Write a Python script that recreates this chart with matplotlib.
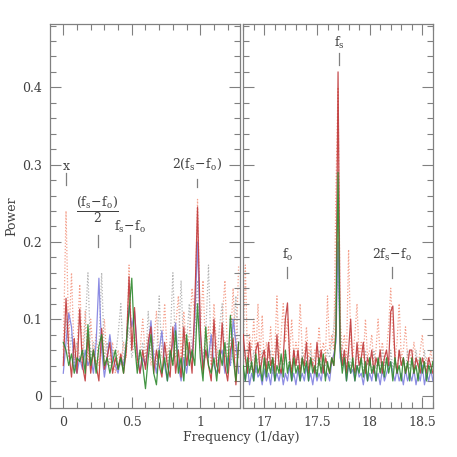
import numpy as np
import matplotlib
matplotlib.use("Agg")
import matplotlib.pyplot as plt
from matplotlib.ticker import MultipleLocator

# ---------------- data ----------------
# left panel frequency grid (1/day)
freq_left = [0.00, 0.02, 0.04, 0.06, 0.08, 0.10, 0.12, 0.14, 0.16, 0.18,
             0.20, 0.22, 0.24, 0.26, 0.28, 0.30, 0.32, 0.34, 0.36, 0.38,
             0.40, 0.42, 0.44, 0.46, 0.48, 0.50, 0.52, 0.54, 0.56, 0.58,
             0.60, 0.62, 0.64, 0.66, 0.68, 0.70, 0.72, 0.74, 0.76, 0.78,
             0.80, 0.82, 0.84, 0.86, 0.88, 0.90, 0.92, 0.94, 0.96, 0.98,
             1.00, 1.02, 1.04, 1.06, 1.08, 1.10, 1.12, 1.14, 1.16, 1.18,
             1.20, 1.22, 1.24, 1.26, 1.28]

red_left = [0.040, 0.127, 0.060, 0.025, 0.075, 0.030, 0.113, 0.040, 0.020, 0.080,
            0.030, 0.060, 0.040, 0.020, 0.088, 0.035, 0.050, 0.070, 0.030, 0.050,
            0.035, 0.055, 0.030, 0.060, 0.155, 0.060, 0.115, 0.050, 0.030, 0.060,
            0.035, 0.070, 0.090, 0.030, 0.060, 0.040, 0.025, 0.070, 0.040, 0.025,
            0.090, 0.030, 0.060, 0.025, 0.090, 0.040, 0.070, 0.030, 0.120, 0.245,
            0.090, 0.030, 0.060, 0.040, 0.020, 0.100, 0.040, 0.030, 0.095, 0.040,
            0.020, 0.060, 0.075, 0.015, 0.070]

blue_left = [0.030, 0.070, 0.108, 0.090, 0.040, 0.030, 0.050, 0.035, 0.060, 0.040,
             0.050, 0.030, 0.070, 0.153, 0.060, 0.025, 0.050, 0.080, 0.050, 0.040,
             0.030, 0.050, 0.040, 0.070, 0.117, 0.090, 0.110, 0.060, 0.030, 0.050,
             0.040, 0.060, 0.098, 0.050, 0.030, 0.060, 0.085, 0.040, 0.020, 0.050,
             0.070, 0.095, 0.040, 0.020, 0.050, 0.030, 0.060, 0.050, 0.100, 0.200,
             0.080, 0.040, 0.060, 0.050, 0.080, 0.040, 0.030, 0.050, 0.060, 0.030,
             0.050, 0.040, 0.100, 0.070, 0.030]

green_left = [0.070, 0.060, 0.040, 0.055, 0.030, 0.050, 0.045, 0.060, 0.030, 0.093,
              0.040, 0.060, 0.030, 0.065, 0.080, 0.040, 0.050, 0.030, 0.045, 0.060,
              0.035, 0.050, 0.030, 0.070, 0.110, 0.153, 0.070, 0.030, 0.060, 0.040,
              0.010, 0.050, 0.080, 0.030, 0.015, 0.060, 0.030, 0.050, 0.020, 0.060,
              0.040, 0.085, 0.030, 0.050, 0.020, 0.080, 0.040, 0.060, 0.040, 0.120,
              0.050, 0.020, 0.090, 0.040, 0.030, 0.050, 0.020, 0.060, 0.040, 0.070,
              0.030, 0.105, 0.050, 0.020, 0.070]

salmon_left = [0.060, 0.240, 0.070, 0.160, 0.050, 0.060, 0.145, 0.050, 0.110, 0.040,
               0.100, 0.050, 0.080, 0.040, 0.060, 0.100, 0.040, 0.050, 0.070, 0.030,
               0.060, 0.040, 0.070, 0.050, 0.170, 0.060, 0.080, 0.040, 0.060, 0.100,
               0.050, 0.080, 0.040, 0.070, 0.110, 0.050, 0.060, 0.120, 0.050, 0.070,
               0.040, 0.090, 0.130, 0.050, 0.110, 0.060, 0.080, 0.140, 0.100, 0.255,
               0.080, 0.150, 0.050, 0.090, 0.040, 0.120, 0.060, 0.050, 0.100, 0.150,
               0.050, 0.070, 0.140, 0.050, 0.170]

gray_left = [0.050, 0.100, 0.050, 0.080, 0.040, 0.070, 0.050, 0.040, 0.090, 0.160,
             0.050, 0.070, 0.040, 0.060, 0.160, 0.050, 0.070, 0.040, 0.060, 0.050,
             0.080, 0.120, 0.040, 0.060, 0.090, 0.050, 0.070, 0.040, 0.050, 0.070,
             0.040, 0.110, 0.050, 0.060, 0.040, 0.130, 0.050, 0.060, 0.040, 0.070,
             0.160, 0.050, 0.060, 0.150, 0.050, 0.070, 0.120, 0.050, 0.080, 0.150,
             0.060, 0.050, 0.080, 0.170, 0.050, 0.070, 0.040, 0.090, 0.120, 0.050,
             0.070, 0.040, 0.060, 0.130, 0.050]

# right panel frequency grid (1/day)
freq_right = [16.80, 16.82, 16.84, 16.86, 16.88, 16.90, 16.92, 16.94, 16.96, 16.98,
              17.00, 17.02, 17.04, 17.06, 17.08, 17.10, 17.12, 17.14, 17.16, 17.18,
              17.20, 17.22, 17.24, 17.26, 17.28, 17.30, 17.32, 17.34, 17.36, 17.38,
              17.40, 17.42, 17.44, 17.46, 17.48, 17.50, 17.52, 17.54, 17.56, 17.58,
              17.60, 17.62, 17.64, 17.66, 17.68, 17.70, 17.72, 17.74, 17.76, 17.78,
              17.80, 17.82, 17.84, 17.86, 17.88, 17.90, 17.92, 17.94, 17.96, 17.98,
              18.00, 18.02, 18.04, 18.06, 18.08, 18.10, 18.12, 18.14, 18.16, 18.18,
              18.20, 18.22, 18.24, 18.26, 18.28, 18.30, 18.32, 18.34, 18.36, 18.38,
              18.40, 18.42, 18.44, 18.46, 18.48, 18.50, 18.52, 18.54, 18.56, 18.58,
              18.60]

red_right = [0.080, 0.050, 0.030, 0.070, 0.040, 0.030, 0.060, 0.070, 0.030, 0.050,
             0.060, 0.030, 0.070, 0.040, 0.050, 0.030, 0.080, 0.040, 0.030, 0.050,
             0.100, 0.121, 0.050, 0.030, 0.060, 0.040, 0.060, 0.030, 0.050, 0.040,
             0.070, 0.030, 0.050, 0.040, 0.030, 0.070, 0.040, 0.060, 0.030, 0.050,
             0.040, 0.030, 0.050, 0.040, 0.090, 0.420, 0.070, 0.040, 0.060, 0.030,
             0.060, 0.100, 0.040, 0.030, 0.070, 0.040, 0.050, 0.070, 0.030, 0.050,
             0.040, 0.060, 0.030, 0.050, 0.040, 0.060, 0.030, 0.050, 0.060, 0.040,
             0.110, 0.117, 0.050, 0.030, 0.060, 0.040, 0.050, 0.030, 0.040, 0.060,
             0.060, 0.030, 0.050, 0.040, 0.030, 0.050, 0.040, 0.030, 0.050, 0.040,
             0.030]

salmon_right = [0.060, 0.170, 0.050, 0.080, 0.060, 0.100, 0.050, 0.120, 0.050, 0.105,
                0.040, 0.070, 0.050, 0.090, 0.050, 0.060, 0.130, 0.050, 0.080, 0.120,
                0.070, 0.100, 0.050, 0.100, 0.050, 0.070, 0.050, 0.120, 0.060, 0.050,
                0.090, 0.050, 0.070, 0.040, 0.060, 0.050, 0.090, 0.050, 0.070, 0.050,
                0.130, 0.060, 0.080, 0.060, 0.270, 0.400, 0.100, 0.060, 0.080, 0.050,
                0.190, 0.070, 0.050, 0.080, 0.120, 0.050, 0.070, 0.050, 0.100, 0.050,
                0.060, 0.080, 0.040, 0.060, 0.100, 0.050, 0.070, 0.050, 0.060, 0.090,
                0.140, 0.080, 0.050, 0.070, 0.120, 0.050, 0.060, 0.090, 0.050, 0.060,
                0.040, 0.070, 0.050, 0.040, 0.060, 0.080, 0.040, 0.050, 0.040, 0.060,
                0.040]

green_right = [0.040, 0.020, 0.050, 0.030, 0.045, 0.020, 0.055, 0.030, 0.040, 0.020,
               0.050, 0.025, 0.045, 0.030, 0.050, 0.020, 0.040, 0.030, 0.055, 0.025,
               0.060, 0.030, 0.045, 0.020, 0.050, 0.030, 0.040, 0.020, 0.050, 0.030,
               0.045, 0.020, 0.050, 0.030, 0.040, 0.025, 0.050, 0.030, 0.055, 0.020,
               0.045, 0.030, 0.050, 0.040, 0.080, 0.290, 0.060, 0.030, 0.050, 0.020,
               0.045, 0.030, 0.050, 0.020, 0.040, 0.030, 0.050, 0.025, 0.045, 0.020,
               0.050, 0.030, 0.040, 0.020, 0.050, 0.030, 0.045, 0.025, 0.050, 0.030,
               0.045, 0.020, 0.050, 0.030, 0.040, 0.020, 0.050, 0.030, 0.045, 0.020,
               0.050, 0.030, 0.040, 0.020, 0.050, 0.030, 0.045, 0.020, 0.040, 0.030,
               0.045]

blue_right = [0.030, 0.020, 0.040, 0.015, 0.030, 0.020, 0.040, 0.025, 0.030, 0.015,
              0.035, 0.020, 0.030, 0.015, 0.040, 0.020, 0.030, 0.020, 0.035, 0.015,
              0.030, 0.020, 0.040, 0.020, 0.030, 0.015, 0.035, 0.020, 0.030, 0.020,
              0.040, 0.020, 0.030, 0.015, 0.035, 0.020, 0.030, 0.020, 0.040, 0.025,
              0.030, 0.020, 0.045, 0.055, 0.070, 0.200, 0.050, 0.040, 0.050, 0.020,
              0.040, 0.030, 0.035, 0.020, 0.040, 0.025, 0.030, 0.015, 0.035, 0.020,
              0.030, 0.020, 0.040, 0.020, 0.030, 0.015, 0.035, 0.020, 0.030, 0.040,
              0.045, 0.030, 0.020, 0.035, 0.020, 0.030, 0.015, 0.035, 0.020, 0.030,
              0.020, 0.035, 0.015, 0.030, 0.020, 0.040, 0.015, 0.030, 0.020, 0.035,
              0.020]

gray_right = [0.040, 0.060, 0.030, 0.050, 0.035, 0.060, 0.030, 0.050, 0.040, 0.060,
              0.030, 0.050, 0.035, 0.060, 0.030, 0.045, 0.070, 0.030, 0.050, 0.040,
              0.060, 0.035, 0.050, 0.030, 0.060, 0.040, 0.050, 0.030, 0.060, 0.035,
              0.050, 0.030, 0.060, 0.040, 0.050, 0.030, 0.060, 0.035, 0.050, 0.040,
              0.060, 0.050, 0.070, 0.090, 0.130, 0.150, 0.090, 0.050, 0.060, 0.035,
              0.060, 0.040, 0.050, 0.030, 0.060, 0.035, 0.050, 0.030, 0.060, 0.040,
              0.050, 0.030, 0.060, 0.035, 0.050, 0.030, 0.060, 0.040, 0.050, 0.030,
              0.060, 0.035, 0.050, 0.030, 0.060, 0.040, 0.050, 0.030, 0.060, 0.035,
              0.050, 0.030, 0.060, 0.040, 0.050, 0.030, 0.060, 0.035, 0.050, 0.030,
              0.040]

# annotations: (label, x, text_y, tick_top, tick_bottom)
ann_left = [("x", 0.02, 0.297, 0.289, 0.274),
            (r"$\dfrac{(\mathrm{f_s\!-\!f_o})}{2}$", 0.25, 0.242, 0.209, 0.194),
            (r"$\mathrm{f_s\!-\!f_o}$", 0.49, 0.219, 0.209, 0.194),
            (r"$\mathrm{2(f_s\!-\!f_o)}$", 0.976, 0.300, 0.281, 0.271)]
ann_right = [(r"$\mathrm{f_s}$", 17.71, 0.457, 0.444, 0.429),
             (r"$\mathrm{f_o}$", 17.22, 0.183, 0.168, 0.153),
             (r"$\mathrm{2f_s\!-\!f_o}$", 18.21, 0.183, 0.168, 0.153)]

# ---------------- style ----------------
plt.rcParams['font.family'] = ['DejaVu Serif']
plt.rcParams['mathtext.fontset'] = 'dejavuserif'
axis_col = '#808080'
text_col = '#404040'

c_red = '#c0393b'
c_blue = '#8080e0'
c_green = '#2f8a2f'
c_salmon = '#f4a08c'
c_gray = '#b4b4b4'

W, H = 457, 457
fig = plt.figure(figsize=(W / 100, H / 100), dpi=100)
axL = fig.add_axes([50 / W, 1 - 408 / H, 190 / W, 384 / H])
axR = fig.add_axes([242.7 / W, 1 - 408 / H, 190.6 / W, 384 / H])

def draw(ax, f, red, blue, green, salmon, gray):
    ax.plot(f, salmon, color=c_salmon, lw=0.9, ls=(0, (1, 1.5)), zorder=1)
    ax.plot(f, gray, color=c_gray, lw=0.9, ls=(0, (1, 1.5)), zorder=1)
    ax.plot(f, blue, color=c_blue, lw=0.9, alpha=0.9, zorder=2)
    ax.plot(f, red, color=c_red, lw=0.9, alpha=0.9, zorder=3)
    ax.plot(f, green, color=c_green, lw=0.9, alpha=0.9, zorder=4)

draw(axL, freq_left, red_left, blue_left, green_left, salmon_left, gray_left)
draw(axR, freq_right, red_right, blue_right, green_right, salmon_right, gray_right)

axL.set_xlim(-0.097, 1.29)
axR.set_xlim(16.795, 18.604)
for ax in (axL, axR):
    ax.set_ylim(-0.015, 0.482)
    ax.yaxis.set_major_locator(MultipleLocator(0.1))
    ax.yaxis.set_minor_locator(MultipleLocator(0.02))
    ax.xaxis.set_major_locator(MultipleLocator(0.5))
    ax.xaxis.set_minor_locator(MultipleLocator(0.1))
    ax.tick_params(which='both', direction='in', top=True, right=True,
                   color=axis_col, labelcolor=text_col, labelsize=9, width=0.8)
    ax.tick_params(which='major', length=8, pad=6)
    ax.tick_params(which='minor', length=4)
    for s in ax.spines.values():
        s.set_color(axis_col)
        s.set_linewidth(0.9)

axL.set_yticks([0, 0.1, 0.2, 0.3, 0.4])
axL.set_yticklabels(['0', '0.1', '0.2', '0.3', '0.4'])
axL.set_xticks([0, 0.5, 1])
axL.set_xticklabels(['0', '0.5', '1'])
axR.set_yticks([0, 0.1, 0.2, 0.3, 0.4])
axR.tick_params(labelleft=False)
axR.set_xticks([17, 17.5, 18, 18.5])
axR.set_xticklabels(['17', '17.5', '18', '18.5'])

fig.text(12 / W, 1 - 216 / H, 'Power', rotation=90, ha='center', va='center',
         color=text_col, fontsize=9)
fig.text(241 / W, 1 - 438 / H, 'Frequency (1/day)', ha='center', va='center',
         color=text_col, fontsize=9)

for ax, anns in ((axL, ann_left), (axR, ann_right)):
    for lab, x, ty, t1, t2 in anns:
        ax.text(x, ty, lab, ha='center', va='center', color=text_col, fontsize=9,
                zorder=6)
        ax.plot([x, x], [t1, t2], color=axis_col, lw=0.9, zorder=6)

fig.savefig('out.png', dpi=100)
